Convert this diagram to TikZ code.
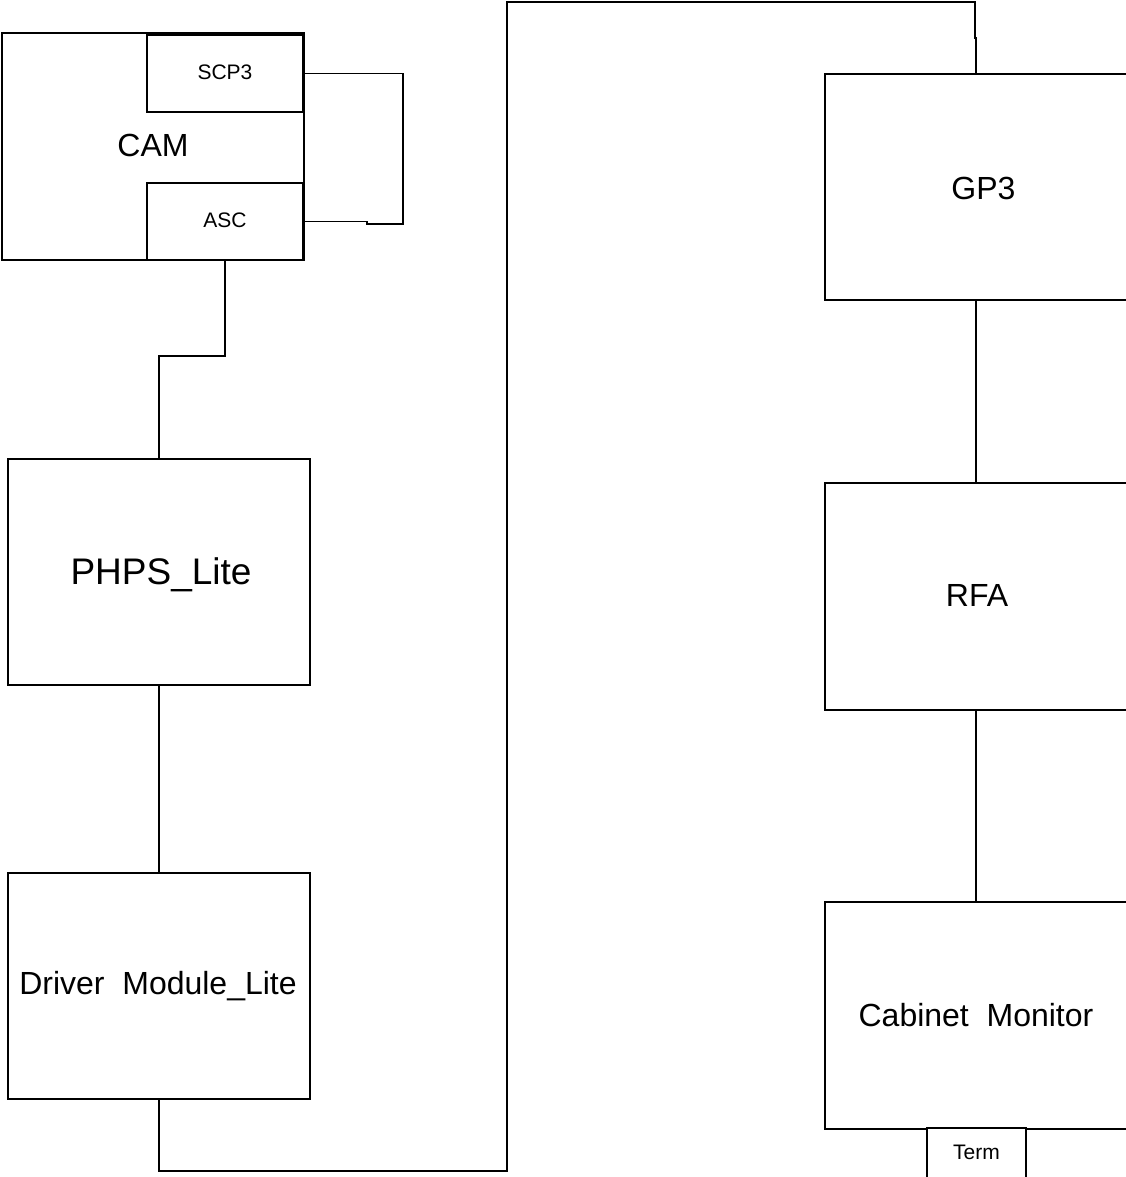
\documentclass[tikz,border=0pt]{standalone}
\usepackage{fontspec}
\setmainfont{Liberation Sans}
\begin{document}
\begin{tikzpicture}[x=1pt,y=-1pt,
  box/.style={draw=black,line width=1.1pt,inner sep=0pt,outer sep=0pt,fill=white},
  wire/.style={draw=black,line width=1.1pt},
  biglbl/.style={inner sep=0pt,anchor=center,font=\fontsize{32}{38}\selectfont,text height=22.9pt,text depth=0pt},
  hugelbl/.style={inner sep=0pt,anchor=center,font=\fontsize{37}{44}\selectfont,text height=26.5pt,text depth=0pt},
  smalllbl/.style={inner sep=0pt,anchor=center,font=\fontsize{21}{25}\selectfont,text height=15pt,text depth=0pt}]
\clip (0,0) rectangle (1126,1177);
\fill[white] (0,0) rectangle (1126,1177);
% left column
\node[box,minimum width=302pt,minimum height=227pt] (CAM) at (153,146.5) {};
\node[box,minimum width=156pt,minimum height=77pt] (SCP3) at (225,73.5) {};
\node[box,minimum width=156pt,minimum height=77pt] (ASC) at (225,221.5) {};
\node[box,minimum width=302pt,minimum height=226pt] (PHPS) at (159,572) {};
\node[box,minimum width=302pt,minimum height=226pt] (Driver) at (159,986) {};
% right column
\node[box,minimum width=302pt,minimum height=226pt] (GP3) at (976,187) {};
\node[box,minimum width=302pt,minimum height=227pt] (RFA) at (976,596.5) {};
\node[box,minimum width=302pt,minimum height=227pt] (Cab) at (976,1015.5) {};
\node[box,minimum width=99pt,minimum height=70pt] (Term) at (976.5,1163) {};
% labels
\node[biglbl] (lCAM) at (153,145) {CAM};
\node[smalllbl] (lSCP3) at (225,72.5) {SCP3};
\node[smalllbl] (lASC) at (225,220) {ASC};
\node[hugelbl] (lPHPS) at (161,571) {PHPS\_Lite};
\node[biglbl] (lDriver) at (158,983) {Driver~~Module\_Lite};
\node[biglbl] (lGP3) at (983.5,188) {GP3};
\node[biglbl] (lRFA) at (977,595) {RFA};
\node[biglbl] (lCab) at (976,1015) {Cabinet~~Monitor};
\node[smalllbl] (lTerm) at (976.5,1152) {Term};
% connectors
\draw[wire] (SCP3.east) -- (403,73.5) |- (367,224) |- (ASC.east);
\draw[wire] (ASC.south) -- (225,356) -| (PHPS.north);
\draw[wire] (PHPS.south) -- (Driver.north);
\draw[wire] (Driver.south) |- (507,1171) |- (975,2) -- (975,38) -| (GP3.north);
\draw[wire] (GP3.south) -- (RFA.north);
\draw[wire] (RFA.south) -- (Cab.north);
\end{tikzpicture}
\end{document}
